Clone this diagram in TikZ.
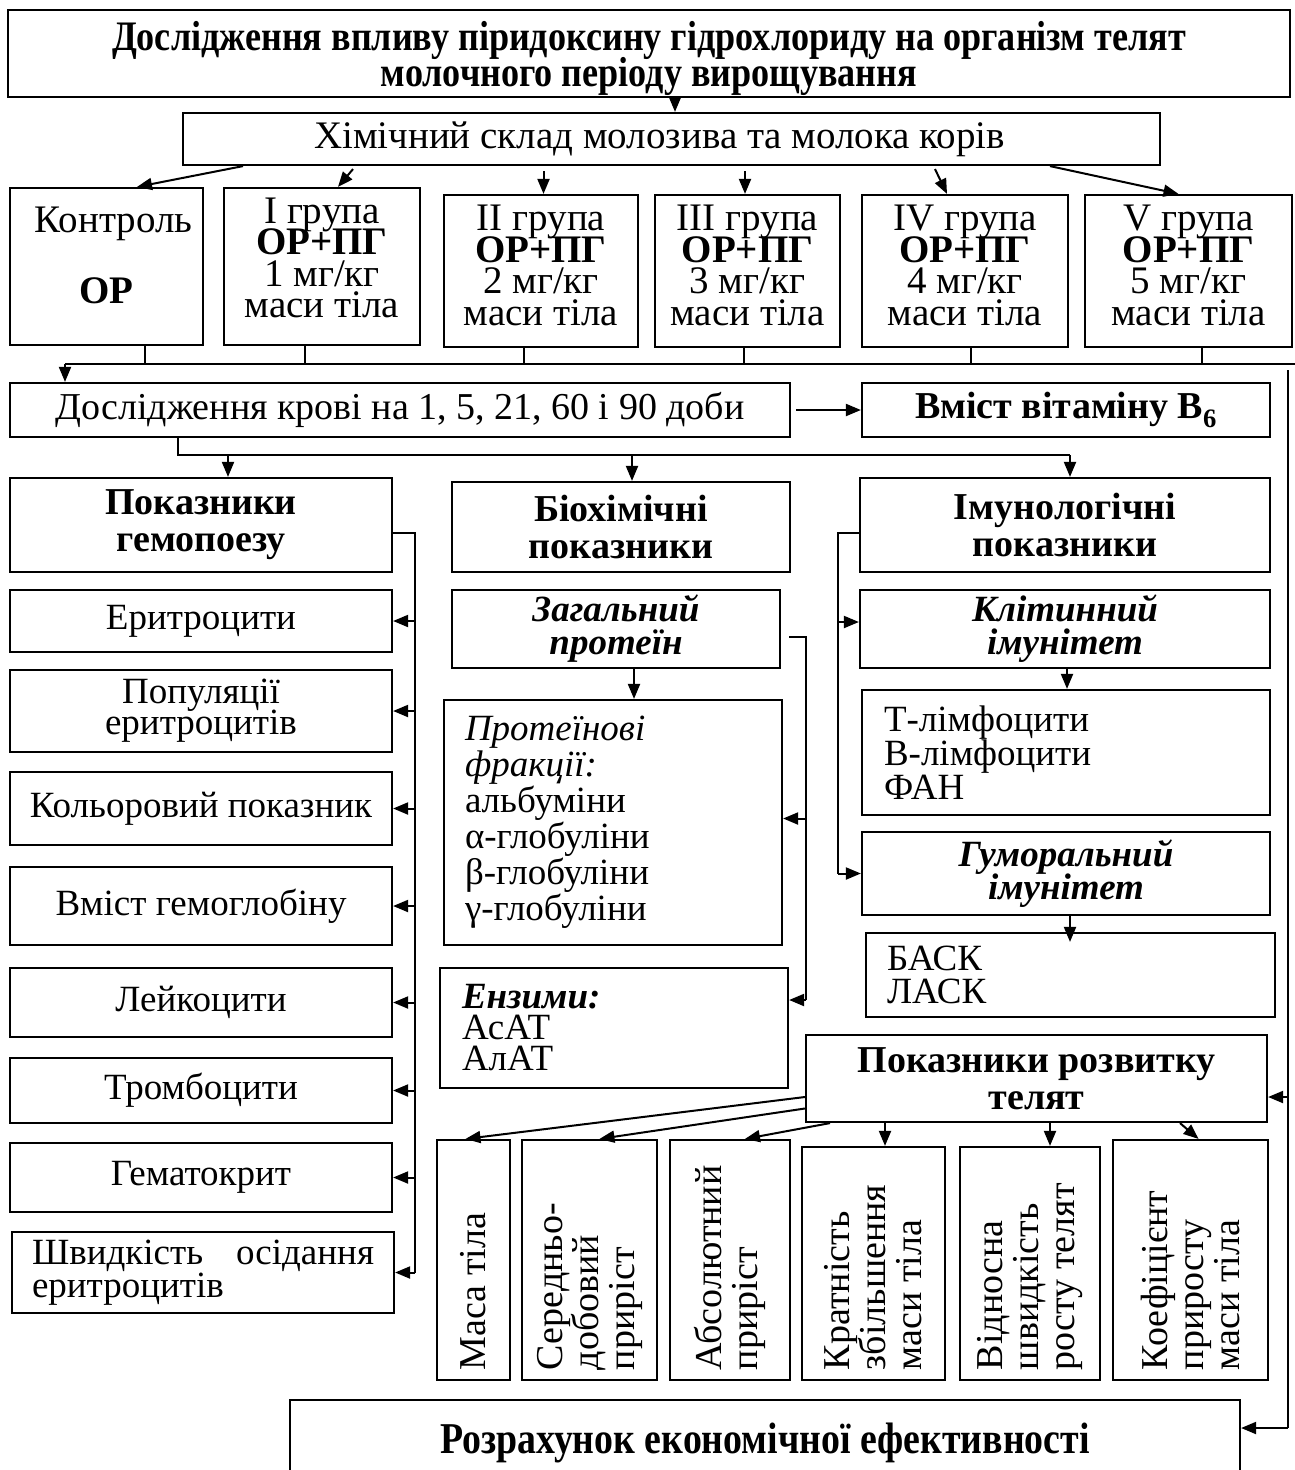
\documentclass[tikz,border=0pt]{standalone}
\usepackage{fontspec}
\setmainfont{Liberation Serif}
\newfontfamily\condfont[FakeStretch=0.86]{Liberation Serif}
\usetikzlibrary{arrows.meta}
\lineskiplimit=-100pt

\begin{document}
\begin{tikzpicture}[x=1pt, y=-1pt, >={Triangle[length=15pt,width=12pt]}, line width=2pt,
    box/.style={draw, line width=2.2pt, inner sep=0pt, align=center,
        font=\fontsize{37}{31}\selectfont},
    head/.style={box, font=\fontsize{38}{37}\selectfont\bfseries},
    ital/.style={box, font=\fontsize{37}{33}\selectfont\bfseries\itshape},
    grp/.style={box, font=\fontsize{39}{31.5}\selectfont},
    vbox/.style={box, font=\fontsize{38}{36}\selectfont}]
\path[use as bounding box] (0,0) rectangle (1295,1470);
\clip (0,0) rectangle (1295,1470);

% top
\node[box, font=\fontsize{42}{36}\condfont\bfseries, minimum width=1282pt, minimum height=87pt] (title) at (649,53.5)
    {\rule{0pt}{40pt}Дослідження впливу піридоксину гідрохлориду на організм телят\\молочного періоду вирощування};
\node[box, font=\fontsize{39}{39}\selectfont, minimum width=977pt, minimum height=52pt] (chem) at (671.5,139)
    {\hspace*{-24pt}Хімічний склад молозива та молока корів};

% groups
\node[grp, minimum width=193pt, minimum height=157pt] (ctrl) at (106.5,266.5)
    {\hspace*{14pt}Контроль\\[39pt]\textbf{ОР}\rule[-23pt]{0pt}{1pt}};
\node[grp, minimum width=196pt, minimum height=157pt] (gr1) at (322,266.5)
    {I група\\\textbf{ОР+ПГ}\\1 мг/кг\\маси тіла\rule[-18pt]{0pt}{1pt}};
\foreach \n/\x/\w/\num in {2/541/194/II, 3/747.5/185/III, 4/965/206/IV, 5/1188.5/207/V}
    \node[grp, minimum width=\w pt, minimum height=152pt] (gr\n) at (\x,271)
        {\num\ група\\\textbf{ОР+ПГ}\\\n\ мг/кг\\маси тіла\rule[-12pt]{0pt}{1pt}};

% blood
\node[box, font=\fontsize{38}{38}\selectfont, minimum width=780pt, minimum height=54pt] (blood) at (400,410) {Дослідження крові на 1, 5, 21, 60 і 90 доби};
\node[head, minimum width=408pt, minimum height=54pt] (vitb) at (1066,410) {Вміст вітаміну B\textsubscript{6}};

\node[head, minimum width=382pt, minimum height=94pt] (hemo) at (201,525) {Показники\\гемопоезу};
\node[head, minimum width=338pt, minimum height=90pt] (bio) at (621,527) {Біохімічні\\показники};
\node[head, minimum width=410pt, minimum height=94pt] (imm) at (1065,525) {Імунологічні\\показники};

% haemopoiesis
\foreach \n/\y/\h/\t in {ery/621/62/Еритроцити, pop/711/82/{Популяції\\еритроцитів},
    color/808.5/73/Кольоровий показник, hgb/906/78/Вміст гемоглобіну, leu/1002.5/69/Лейкоцити,
    plt/1090.5/65/Тромбоцити, hct/1177.5/69/Гематокрит}
    \node[box, minimum width=382pt, minimum height=\h pt] (\n) at (201,\y) {\t};
\node[box, align=left, text width=342pt, minimum width=382pt, minimum height=81pt] (esr) at (203,1272.5)
    {Швидкість\hskip 0pt plus 1filll осідання\\еритроцитів};

% biochemistry
\node[ital, minimum width=328pt, minimum height=78pt] (prot) at (616,629) {Загальний\\протеїн};
\node[box, align=left, text width=296pt, font=\fontsize{37}{36}\selectfont, minimum width=338pt, minimum height=245pt] (frac) at (613,822.5)
    {\textit{Протеїнові}\\\textit{фракції:}\\альбуміни\\α-глобуліни\\β-глобуліни\\γ-глобуліни};
\node[box, align=left, text width=304pt, font=\fontsize{37}{31}\selectfont, minimum width=348pt, minimum height=120pt] (enz) at (614,1028)
    {\textbf{\textit{Ензими:}}\\АсАТ\\АлАТ};

% immunity
\node[ital, minimum width=410pt, minimum height=78pt] (cell) at (1065,629) {Клітинний\\імунітет};
\node[box, align=left, text width=364pt, font=\fontsize{37}{30}\selectfont, minimum width=408pt, minimum height=125pt] (lymph) at (1066,752.5)
    {Т-лімфоцити\\В-лімфоцити\\ФАН};
\node[ital, minimum width=408pt, minimum height=83pt] (hum) at (1066,873.5) {Гуморальний\\імунітет};
\node[box, align=left, text width=367pt, font=\fontsize{37}{33}\selectfont, minimum width=409pt, minimum height=84pt] (bask) at (1070.5,975)
    {БАСК\\ЛАСК};

% growth
\node[head, minimum width=461pt, minimum height=87pt] (dev) at (1036.5,1078.5) {Показники розвитку\\телят};
\foreach \n/\x/\y/\w/\h/\t in {mass/473.5/1260/73/240/{Маса тіла},
    daily/589.5/1260/135/240/{Середньо-\\добовий\\приріст},
    abs/730/1260/120/240/{Абсолютний\\приріст},
    mult/873.5/1263.5/143/233/{Кратність\\збільшення\\маси тіла},
    rel/1030/1263.5/140/233/{Відносна\\швидкість\\росту телят},
    coef/1190.5/1260/155/240/{Коефіцієнт\\приросту\\маси тіла}}
    \node[vbox, minimum width=\w pt, minimum height=\h pt] (\n) at (\x,\y)
        {\rotatebox{90}{\parbox{\dimexpr\h pt-20pt\relax}{\raggedright\t}}};

\node[box, font=\fontsize{44}{44}\condfont\bfseries, minimum width=950pt, minimum height=90pt] (econ) at (765,1445)
    {\raisebox{13pt}{Розрахунок економічної ефективності}};

% arrows
\draw[->] ([xshift=26pt]title.south) -- ([xshift=26pt]title.south |- chem.north);
\draw[->] ([xshift=-428.5pt]chem.south) -- ([xshift=30.5pt]ctrl.north);
\draw[->] ([xshift=-318.5pt,yshift=-3pt]chem.south) -- ([xshift=16pt]gr1.north);
\draw[->] ([xshift=-128pt,yshift=-5pt]chem.south) -- ([xshift=2.5pt]gr2.north);
\draw[->] ([xshift=73.5pt,yshift=-5pt]chem.south) -- ([xshift=-2.5pt]gr3.north);
\draw[->] ([xshift=263.5pt,yshift=-3pt]chem.south) -- ([xshift=-18pt]gr4.north);
\draw[->] ([xshift=378.5pt]chem.south) -- ([xshift=-10pt]gr5.north);

\coordinate (busL) at (65,364);
\coordinate (busR) at (1295,364);
\draw (busL) -- (busR);
\foreach \n/\s in {ctrl/38.5, gr1/-17, gr2/-17, gr3/-3.5, gr4/6, gr5/13.5}
    \draw ([xshift=\s pt]\n.south) -- ([xshift=\s pt]\n.south |- busL);
\draw[->] (busL) -- (busL |- blood.north);

\coordinate (rtop) at (1288,370);
\coordinate (rbot) at (1288,1428);
\draw (rtop) -- (rbot);
\draw[->] ([yshift=-18.5pt]dev.east -| rtop) -- ([yshift=-18.5pt]dev.east);
\draw[->] (rbot) -- (rbot -| econ.east);

\draw[->] ([xshift=5pt]blood.east) -- (vitb.west);

\coordinate (split) at (178,455);
\draw (split |- blood.south) -- (split) -- ([xshift=5pt]imm.north |- split);
\draw[->] ([xshift=27pt]hemo.north |- split) -- ([xshift=27pt]hemo.north);
\draw[->] ([xshift=11pt]bio.north |- split) -- ([xshift=11pt]bio.north);
\draw[->] ([xshift=5pt]imm.north |- split) -- ([xshift=5pt]imm.north);

\coordinate (hbus) at (415,533);
\draw ([yshift=-8pt]hemo.east) -- (hbus) -- (hbus |- esr.east);
\foreach \n in {ery,pop,color,hgb,leu,plt,hct,esr}
    \draw[->] (\n.east -| hbus) -- (\n.east);

\coordinate (pbus) at (806,637);
\draw ([xshift=8pt,yshift=-8pt]prot.east) -- (pbus) -- ([yshift=28pt]enz.east -| pbus);
\draw[->] ([yshift=4pt]frac.east -| pbus) -- ([yshift=4pt]frac.east);
\draw[->] ([yshift=28pt]enz.east -| pbus) -- ([yshift=28pt]enz.east);
\draw[->] ([xshift=18pt]prot.south) -- ([xshift=18pt]prot.south |- frac.north);

\coordinate (ibus) at (838,533);
\draw ([yshift=-8pt]imm.west) -- (ibus) -- (ibus |- hum.west);
\draw[->] ([yshift=7pt]cell.west -| ibus) -- ([yshift=7pt]cell.west);
\draw[->] (hum.west -| ibus) -- (hum.west);
\draw[->] ([xshift=2pt]cell.south) -- ([xshift=2pt]cell.south |- lymph.north);
\draw[->] ([xshift=4pt]hum.south) -- ([xshift=4pt,yshift=-10pt]hum.south |- bask.north);

\draw[->] ([yshift=-18.5pt]dev.west) -- ([xshift=-8pt]mass.north);
\draw[->] ([yshift=-30pt]dev.west) -- ([xshift=10pt]daily.north);
\draw[->] ([xshift=-206.5pt]dev.south) -- ([xshift=15pt]abs.north);
\draw[->] ([xshift=11.5pt]mult.north |- dev.south) -- ([xshift=11.5pt]mult.north);
\draw[->] ([xshift=20pt]rel.north |- dev.south) -- ([xshift=20pt]rel.north);
\draw[->] ([xshift=143.5pt]dev.south) -- ([xshift=8pt]coef.north);
\end{tikzpicture}
\end{document}
